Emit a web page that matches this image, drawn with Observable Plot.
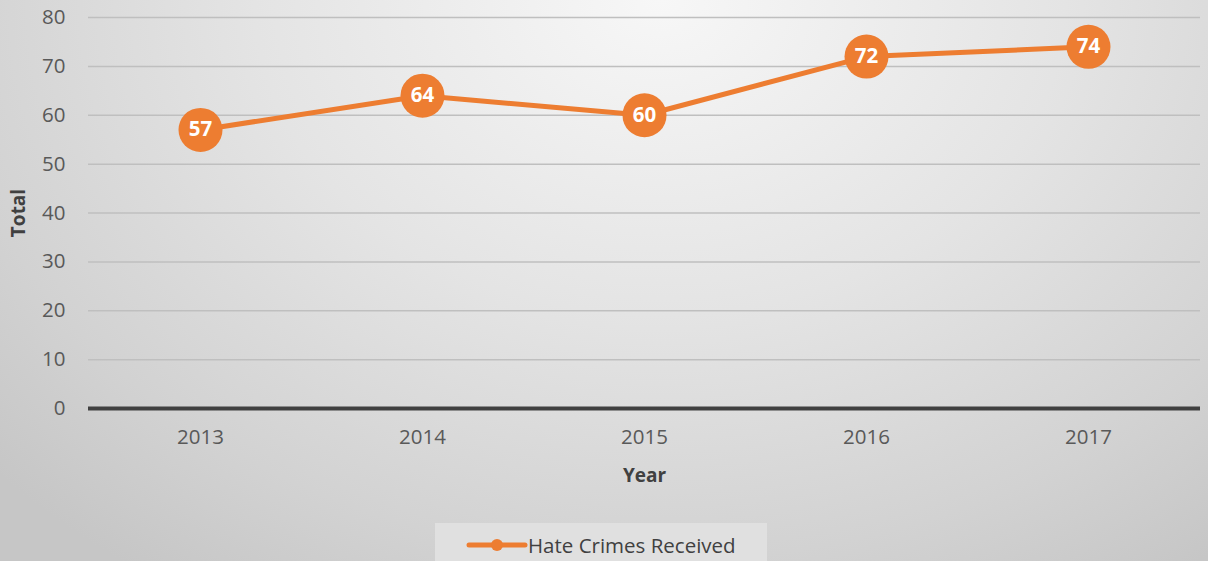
<!DOCTYPE html>
<html><head><meta charset="utf-8">
<script src="https://cdn.jsdelivr.net/npm/d3@7"></script>
<script src="https://cdn.jsdelivr.net/npm/@observablehq/plot@0.6"></script>
<style>
html,body{margin:0;padding:0;}
#wrap{position:relative;width:1208px;height:561px;overflow:hidden;
background:radial-gradient(ellipse 900px 700px at 660px 0px,#f7f7f7 0%,#e4e4e4 45%,#d2d2d2 80%,#c6c6c6 100%);
font-family:"Open Sans",sans-serif;}
#legend{position:absolute;left:435px;top:523px;width:332px;height:50px;background:#e0e0e0;}
#legend svg{position:absolute;left:30px;top:12px;}
#legend span{position:absolute;left:93px;top:8px;font-size:20.5px;color:#404040;white-space:nowrap;}
</style></head>
<body><div id="wrap"><div id="chart"></div>
<div id="legend"><svg width="64" height="20"><line x1="4" y1="10" x2="60" y2="10" stroke="#ED7D31" stroke-width="5" stroke-linecap="round"/><circle cx="32" cy="10" r="6" fill="#ED7D31"/></svg><span>Hate Crimes Received</span></div>
</div>
<script>
const years = ["2013","2014","2015","2016","2017"];
const totals = [57,64,60,72,74];
const yTicks = [0,10,20,30,40,50,60,70,80];
const gridTicks = [10,20,30,40,50,60,70,80];
const seriesName = "Hate Crimes Received";
const orange = "#ED7D31";
const data = years.map((y,i)=>({year:y,total:totals[i]}));

const chart = Plot.plot({
  width:1208, height:518,
  marginTop:17, marginBottom:110, marginLeft:88, marginRight:8,
  style:{background:"transparent", fontFamily:"'Open Sans',sans-serif"},
  x:{type:"point", domain:years, padding:0.5},
  y:{domain:[0,80]},
  marks:[
    Plot.ruleY(gridTicks,{stroke:"#bfbfbf",strokeWidth:1.5}),
    Plot.ruleY([0],{stroke:"#404040",strokeWidth:4}),
    Plot.axisY(yTicks,{tickSize:0,tickPadding:23,label:null,fontSize:20.5,fill:"#595959"}),
    Plot.axisX({tickSize:0,tickPadding:21,label:null,fontSize:20.5,fill:"#595959"}),
    Plot.text(["Total"],{frameAnchor:"left",textAnchor:"middle",rotate:-90,dx:-70,fontWeight:"bold",fontSize:19,fill:"#404040"}),
    Plot.text(["Year"],{frameAnchor:"bottom",dy:73,fontWeight:"bold",fontSize:19,fill:"#404040"}),
    Plot.line(data,{x:"year",y:"total",stroke:orange,strokeWidth:5}),
    Plot.dot(data,{x:"year",y:"total",r:22,fill:orange}),
    Plot.text(data,{x:"year",y:"total",text:d=>String(d.total),fill:"white",fontWeight:"bold",fontSize:20.5})
  ]
});
document.getElementById("chart").appendChild(chart);
</script></body></html>
